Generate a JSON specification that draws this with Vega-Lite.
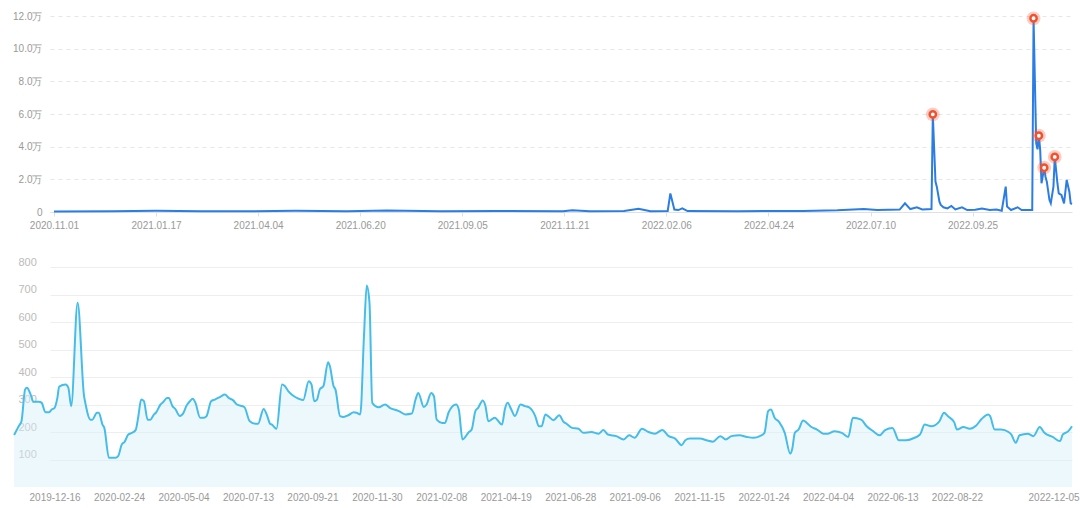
{
  "$schema": "https://vega.github.io/schema/vega-lite/v6.json",
  "background": "white",
  "padding": {"left": 10, "top": 10, "right": 10, "bottom": 0},
  "spacing": 26,
  "config": {"view": {"stroke": null}, "font": "Liberation Sans"},
  "datasets": {
    "top": [
      {"date": "2020-11-01", "v": 300}, {"date": "2020-12-15", "v": 400}, {"date": "2021-01-17", "v": 700},
      {"date": "2021-02-20", "v": 400}, {"date": "2021-04-01", "v": 500}, {"date": "2021-05-02", "v": 800},
      {"date": "2021-06-10", "v": 500}, {"date": "2021-07-10", "v": 900}, {"date": "2021-08-20", "v": 500},
      {"date": "2021-10-01", "v": 600}, {"date": "2021-11-20", "v": 500}, {"date": "2021-11-27", "v": 1100},
      {"date": "2021-12-10", "v": 500}, {"date": "2022-01-05", "v": 600}, {"date": "2022-01-16", "v": 2000},
      {"date": "2022-01-25", "v": 500}, {"date": "2022-02-07", "v": 600}, {"date": "2022-02-09", "v": 11400},
      {"date": "2022-02-12", "v": 1500}, {"date": "2022-02-15", "v": 1200}, {"date": "2022-02-18", "v": 2300},
      {"date": "2022-02-22", "v": 600}, {"date": "2022-04-01", "v": 500}, {"date": "2022-05-20", "v": 600},
      {"date": "2022-06-15", "v": 1000}, {"date": "2022-07-05", "v": 1800}, {"date": "2022-07-15", "v": 1200},
      {"date": "2022-08-01", "v": 1500}, {"date": "2022-08-05", "v": 5300}, {"date": "2022-08-09", "v": 1800},
      {"date": "2022-08-14", "v": 2900}, {"date": "2022-08-18", "v": 1600}, {"date": "2022-08-25", "v": 1800},
      {"date": "2022-08-26", "v": 59800}, {"date": "2022-08-28", "v": 18600}, {"date": "2022-08-29", "v": 15500},
      {"date": "2022-08-31", "v": 6300}, {"date": "2022-09-01", "v": 4300}, {"date": "2022-09-03", "v": 2900},
      {"date": "2022-09-06", "v": 2200}, {"date": "2022-09-09", "v": 3700}, {"date": "2022-09-12", "v": 1600},
      {"date": "2022-09-17", "v": 2900}, {"date": "2022-09-21", "v": 1200}, {"date": "2022-09-27", "v": 1400},
      {"date": "2022-10-02", "v": 2200}, {"date": "2022-10-08", "v": 1200}, {"date": "2022-10-13", "v": 1500},
      {"date": "2022-10-17", "v": 800}, {"date": "2022-10-20", "v": 15500}, {"date": "2022-10-21", "v": 3300},
      {"date": "2022-10-24", "v": 1200}, {"date": "2022-10-29", "v": 2900}, {"date": "2022-11-01", "v": 1200},
      {"date": "2022-11-09", "v": 1200}, {"date": "2022-11-10", "v": 118600}, {"date": "2022-11-12", "v": 42000},
      {"date": "2022-11-13", "v": 38400}, {"date": "2022-11-14", "v": 46700}, {"date": "2022-11-15", "v": 38000},
      {"date": "2022-11-16", "v": 17600}, {"date": "2022-11-18", "v": 27100}, {"date": "2022-11-19", "v": 21600},
      {"date": "2022-11-20", "v": 18600}, {"date": "2022-11-22", "v": 7300}, {"date": "2022-11-23", "v": 5300},
      {"date": "2022-11-25", "v": 15500}, {"date": "2022-11-26", "v": 33700}, {"date": "2022-11-28", "v": 17600},
      {"date": "2022-11-29", "v": 11400}, {"date": "2022-12-01", "v": 10400}, {"date": "2022-12-03", "v": 5300},
      {"date": "2022-12-05", "v": 19600}, {"date": "2022-12-07", "v": 12400}, {"date": "2022-12-08", "v": 5300},
      {"date": "2022-12-09", "v": 4900}
    ],
    "peaks": [
      {"date": "2022-08-26", "v": 59800}, {"date": "2022-11-10", "v": 118600}, {"date": "2022-11-14", "v": 46700},
      {"date": "2022-11-18", "v": 27100}, {"date": "2022-11-26", "v": 33700}
    ],
    "bottom": [
      {"date": "2019-11-02", "v": 189}, {"date": "2019-11-07", "v": 221}, {"date": "2019-11-10", "v": 239},
      {"date": "2019-11-14", "v": 355}, {"date": "2019-11-16", "v": 361}, {"date": "2019-11-20", "v": 336},
      {"date": "2019-11-23", "v": 310}, {"date": "2019-11-29", "v": 310}, {"date": "2019-12-02", "v": 306},
      {"date": "2019-12-06", "v": 272}, {"date": "2019-12-10", "v": 272}, {"date": "2019-12-13", "v": 282},
      {"date": "2019-12-16", "v": 288}, {"date": "2019-12-19", "v": 324}, {"date": "2019-12-21", "v": 365},
      {"date": "2019-12-28", "v": 373}, {"date": "2019-12-31", "v": 360}, {"date": "2020-01-03", "v": 294},
      {"date": "2020-01-10", "v": 670}, {"date": "2020-01-17", "v": 330}, {"date": "2020-01-18", "v": 312},
      {"date": "2020-01-24", "v": 245}, {"date": "2020-01-26", "v": 245}, {"date": "2020-01-31", "v": 270},
      {"date": "2020-02-02", "v": 270}, {"date": "2020-02-06", "v": 227}, {"date": "2020-02-08", "v": 215},
      {"date": "2020-02-13", "v": 106}, {"date": "2020-02-20", "v": 106}, {"date": "2020-02-23", "v": 112},
      {"date": "2020-02-27", "v": 155}, {"date": "2020-03-01", "v": 164}, {"date": "2020-03-05", "v": 191},
      {"date": "2020-03-09", "v": 197}, {"date": "2020-03-13", "v": 207}, {"date": "2020-03-16", "v": 258},
      {"date": "2020-03-19", "v": 318}, {"date": "2020-03-22", "v": 312}, {"date": "2020-03-26", "v": 245},
      {"date": "2020-03-29", "v": 245}, {"date": "2020-04-02", "v": 264}, {"date": "2020-04-04", "v": 270},
      {"date": "2020-04-09", "v": 300}, {"date": "2020-04-12", "v": 309}, {"date": "2020-04-16", "v": 324},
      {"date": "2020-04-18", "v": 324}, {"date": "2020-04-22", "v": 294}, {"date": "2020-04-25", "v": 284},
      {"date": "2020-04-30", "v": 258}, {"date": "2020-05-04", "v": 270}, {"date": "2020-05-07", "v": 294},
      {"date": "2020-05-11", "v": 312}, {"date": "2020-05-14", "v": 321}, {"date": "2020-05-17", "v": 306},
      {"date": "2020-05-22", "v": 252}, {"date": "2020-05-26", "v": 252}, {"date": "2020-05-29", "v": 258},
      {"date": "2020-06-03", "v": 312}, {"date": "2020-06-07", "v": 318}, {"date": "2020-06-13", "v": 328},
      {"date": "2020-06-18", "v": 336}, {"date": "2020-06-22", "v": 324}, {"date": "2020-06-27", "v": 315},
      {"date": "2020-07-01", "v": 300}, {"date": "2020-07-09", "v": 291}, {"date": "2020-07-15", "v": 239},
      {"date": "2020-07-21", "v": 230}, {"date": "2020-07-24", "v": 230}, {"date": "2020-07-30", "v": 284},
      {"date": "2020-08-03", "v": 258}, {"date": "2020-08-06", "v": 230}, {"date": "2020-08-08", "v": 227},
      {"date": "2020-08-13", "v": 212}, {"date": "2020-08-19", "v": 373}, {"date": "2020-08-22", "v": 367},
      {"date": "2020-08-26", "v": 348}, {"date": "2020-09-01", "v": 330}, {"date": "2020-09-06", "v": 321},
      {"date": "2020-09-11", "v": 316}, {"date": "2020-09-17", "v": 385}, {"date": "2020-09-20", "v": 373},
      {"date": "2020-09-23", "v": 312}, {"date": "2020-09-26", "v": 318}, {"date": "2020-09-29", "v": 355},
      {"date": "2020-10-03", "v": 367}, {"date": "2020-10-08", "v": 454}, {"date": "2020-10-10", "v": 439},
      {"date": "2020-10-14", "v": 367}, {"date": "2020-10-16", "v": 355}, {"date": "2020-10-21", "v": 258},
      {"date": "2020-10-25", "v": 255}, {"date": "2020-10-30", "v": 261}, {"date": "2020-11-05", "v": 272},
      {"date": "2020-11-08", "v": 270}, {"date": "2020-11-12", "v": 264}, {"date": "2020-11-16", "v": 548},
      {"date": "2020-11-19", "v": 733}, {"date": "2020-11-22", "v": 670}, {"date": "2020-11-25", "v": 306},
      {"date": "2020-12-02", "v": 290}, {"date": "2020-12-09", "v": 300}, {"date": "2020-12-14", "v": 288},
      {"date": "2020-12-24", "v": 276}, {"date": "2020-12-31", "v": 264}, {"date": "2021-01-07", "v": 267},
      {"date": "2021-01-11", "v": 318}, {"date": "2021-01-14", "v": 342}, {"date": "2021-01-20", "v": 291},
      {"date": "2021-01-23", "v": 300}, {"date": "2021-01-28", "v": 342}, {"date": "2021-01-31", "v": 330},
      {"date": "2021-02-03", "v": 245}, {"date": "2021-02-09", "v": 233}, {"date": "2021-02-12", "v": 233},
      {"date": "2021-02-16", "v": 272}, {"date": "2021-02-24", "v": 300}, {"date": "2021-02-27", "v": 282},
      {"date": "2021-03-03", "v": 173}, {"date": "2021-03-10", "v": 200}, {"date": "2021-03-13", "v": 209},
      {"date": "2021-03-17", "v": 276}, {"date": "2021-03-20", "v": 288}, {"date": "2021-03-25", "v": 315},
      {"date": "2021-03-28", "v": 294}, {"date": "2021-03-31", "v": 239}, {"date": "2021-04-07", "v": 252},
      {"date": "2021-04-15", "v": 227}, {"date": "2021-04-18", "v": 282}, {"date": "2021-04-21", "v": 306},
      {"date": "2021-04-25", "v": 282}, {"date": "2021-04-29", "v": 258}, {"date": "2021-05-05", "v": 300},
      {"date": "2021-05-10", "v": 294}, {"date": "2021-05-15", "v": 288}, {"date": "2021-05-21", "v": 258},
      {"date": "2021-05-25", "v": 221}, {"date": "2021-05-28", "v": 221}, {"date": "2021-06-01", "v": 264},
      {"date": "2021-06-04", "v": 258}, {"date": "2021-06-10", "v": 243}, {"date": "2021-06-16", "v": 261},
      {"date": "2021-06-21", "v": 236}, {"date": "2021-06-24", "v": 230}, {"date": "2021-06-30", "v": 215},
      {"date": "2021-07-07", "v": 212}, {"date": "2021-07-12", "v": 197}, {"date": "2021-07-21", "v": 200},
      {"date": "2021-07-29", "v": 194}, {"date": "2021-08-03", "v": 207}, {"date": "2021-08-08", "v": 191},
      {"date": "2021-08-17", "v": 185}, {"date": "2021-08-25", "v": 173}, {"date": "2021-08-31", "v": 188},
      {"date": "2021-09-06", "v": 179}, {"date": "2021-09-14", "v": 212}, {"date": "2021-09-21", "v": 200},
      {"date": "2021-09-28", "v": 194}, {"date": "2021-10-06", "v": 207}, {"date": "2021-10-13", "v": 185},
      {"date": "2021-10-20", "v": 176}, {"date": "2021-10-27", "v": 152}, {"date": "2021-10-31", "v": 170},
      {"date": "2021-11-05", "v": 176}, {"date": "2021-11-16", "v": 176}, {"date": "2021-11-23", "v": 170},
      {"date": "2021-11-30", "v": 165}, {"date": "2021-12-08", "v": 185}, {"date": "2021-12-14", "v": 173},
      {"date": "2021-12-20", "v": 185}, {"date": "2021-12-29", "v": 188}, {"date": "2022-01-06", "v": 182},
      {"date": "2022-01-13", "v": 179}, {"date": "2022-01-20", "v": 185}, {"date": "2022-01-25", "v": 197},
      {"date": "2022-01-29", "v": 276}, {"date": "2022-02-01", "v": 282}, {"date": "2022-02-05", "v": 252},
      {"date": "2022-02-10", "v": 236}, {"date": "2022-02-16", "v": 197}, {"date": "2022-02-22", "v": 121},
      {"date": "2022-02-24", "v": 136}, {"date": "2022-02-27", "v": 197}, {"date": "2022-03-03", "v": 209},
      {"date": "2022-03-08", "v": 242}, {"date": "2022-03-12", "v": 233}, {"date": "2022-03-17", "v": 218},
      {"date": "2022-03-23", "v": 209}, {"date": "2022-03-30", "v": 194}, {"date": "2022-04-04", "v": 194},
      {"date": "2022-04-11", "v": 203}, {"date": "2022-04-19", "v": 197}, {"date": "2022-04-26", "v": 182},
      {"date": "2022-05-01", "v": 252}, {"date": "2022-05-10", "v": 245}, {"date": "2022-05-16", "v": 221},
      {"date": "2022-05-23", "v": 203}, {"date": "2022-05-30", "v": 188}, {"date": "2022-06-05", "v": 207},
      {"date": "2022-06-13", "v": 215}, {"date": "2022-06-20", "v": 170}, {"date": "2022-06-28", "v": 170},
      {"date": "2022-07-07", "v": 179}, {"date": "2022-07-13", "v": 191}, {"date": "2022-07-18", "v": 227},
      {"date": "2022-07-25", "v": 221}, {"date": "2022-08-03", "v": 239}, {"date": "2022-08-08", "v": 270},
      {"date": "2022-08-12", "v": 258}, {"date": "2022-08-19", "v": 236}, {"date": "2022-08-22", "v": 209},
      {"date": "2022-08-29", "v": 218}, {"date": "2022-09-05", "v": 212}, {"date": "2022-09-12", "v": 224},
      {"date": "2022-09-18", "v": 248}, {"date": "2022-09-25", "v": 264}, {"date": "2022-09-27", "v": 258},
      {"date": "2022-10-02", "v": 209}, {"date": "2022-10-09", "v": 209}, {"date": "2022-10-17", "v": 200},
      {"date": "2022-10-20", "v": 191}, {"date": "2022-10-25", "v": 161}, {"date": "2022-10-29", "v": 188},
      {"date": "2022-11-07", "v": 194}, {"date": "2022-11-13", "v": 185}, {"date": "2022-11-20", "v": 218},
      {"date": "2022-11-25", "v": 197}, {"date": "2022-12-04", "v": 182}, {"date": "2022-12-12", "v": 167},
      {"date": "2022-12-15", "v": 191}, {"date": "2022-12-21", "v": 203}, {"date": "2022-12-25", "v": 221}
    ]
  },
  "vconcat": [
    {
      "width": 1022,
      "height": 196,
      "data": {"name": "top"},
      "encoding": {
        "x": {
          "field": "date", "type": "temporal",
          "scale": {"type": "utc", "domain": [{"year": 2020, "month": 10, "date": 29, "utc": true}, {"year": 2022, "month": 12, "date": 9, "utc": true}]},
          "axis": {
            "title": null, "grid": false,
            "labelExpr": "utcFormat(datum.value, '%Y.%m.%d')",
            "values": [
              {"year": 2020, "month": 11, "date": 1, "utc": true}, {"year": 2021, "month": 1, "date": 17, "utc": true},
              {"year": 2021, "month": 4, "date": 4, "utc": true}, {"year": 2021, "month": 6, "date": 20, "utc": true},
              {"year": 2021, "month": 9, "date": 5, "utc": true}, {"year": 2021, "month": 11, "date": 21, "utc": true},
              {"year": 2022, "month": 2, "date": 6, "utc": true}, {"year": 2022, "month": 4, "date": 24, "utc": true},
              {"year": 2022, "month": 7, "date": 10, "utc": true}, {"year": 2022, "month": 9, "date": 25, "utc": true}
            ],
            "domainColor": "#e0e0e0", "ticks": true, "tickColor": "#e0e0e0", "tickSize": 4,
            "labelPadding": 4, "labelColor": "#999999", "labelFontSize": 10,
            "labelOverlap": false, "labelFlush": false
          }
        },
        "y": {
          "field": "v", "type": "quantitative",
          "scale": {"domain": [0, 120000]},
          "axis": {
            "title": null, "values": [0, 20000, 40000, 60000, 80000, 100000, 120000],
            "labelExpr": "datum.value == 0 ? '0' : format(datum.value / 10000, '.1f') + '万'",
            "grid": true, "gridDash": [4, 4], "gridColor": "#e6e6e6", "domain": false, "ticks": false,
            "labelPadding": 8, "labelColor": "#999999", "labelFontSize": 10
          }
        }
      },
      "layer": [
        {"mark": {"type": "line", "color": "#2b7de3", "strokeWidth": 2}},
        {"data": {"name": "peaks"}, "mark": {"type": "point", "filled": true, "color": "#f5593d", "opacity": 0.3, "size": 190}},
        {"data": {"name": "peaks"}, "mark": {"type": "point", "filled": true, "fill": "white", "stroke": "#f0522f", "strokeWidth": 2.5, "opacity": 1, "size": 40}}
      ]
    },
    {
      "width": 1022,
      "height": 220,
      "data": {"name": "bottom"},
      "encoding": {
        "x": {
          "field": "date", "type": "temporal",
          "scale": {"type": "utc", "domain": [{"year": 2019, "month": 12, "date": 11, "utc": true}, {"year": 2022, "month": 12, "date": 25, "utc": true}]},
          "axis": {
            "title": null, "grid": false,
            "labelExpr": "utcFormat(datum.value, '%Y-%m-%d')",
            "values": [
              {"year": 2019, "month": 12, "date": 16, "utc": true}, {"year": 2020, "month": 2, "date": 24, "utc": true},
              {"year": 2020, "month": 5, "date": 4, "utc": true}, {"year": 2020, "month": 7, "date": 13, "utc": true},
              {"year": 2020, "month": 9, "date": 21, "utc": true}, {"year": 2020, "month": 11, "date": 30, "utc": true},
              {"year": 2021, "month": 2, "date": 8, "utc": true}, {"year": 2021, "month": 4, "date": 19, "utc": true},
              {"year": 2021, "month": 6, "date": 28, "utc": true}, {"year": 2021, "month": 9, "date": 6, "utc": true},
              {"year": 2021, "month": 11, "date": 15, "utc": true}, {"year": 2022, "month": 1, "date": 24, "utc": true},
              {"year": 2022, "month": 4, "date": 4, "utc": true}, {"year": 2022, "month": 6, "date": 13, "utc": true},
              {"year": 2022, "month": 8, "date": 22, "utc": true}, {"year": 2022, "month": 12, "date": 5, "utc": true}
            ],
            "domain": false, "ticks": false, "tickSize": 0,
            "labelPadding": 5, "labelColor": "#999999", "labelFontSize": 10,
            "labelOverlap": false, "labelFlush": false
          }
        },
        "y": {
          "field": "v", "type": "quantitative",
          "scale": {"domain": [0, 800]},
          "axis": {
            "title": null, "values": [100, 200, 300, 400, 500, 600, 700, 800],
            "grid": true, "gridColor": "#eeeeee", "domain": false, "ticks": false, "tickSize": 0,
            "labelAlign": "left", "labelBaseline": "bottom", "labelPadding": 32,
            "labelColor": "#bbbbbb", "labelFontSize": 11
          }
        }
      },
      "layer": [
        {"mark": {"type": "area", "interpolate": "monotone", "color": "#d6eff9", "opacity": 0.45}},
        {"mark": {"type": "line", "interpolate": "monotone", "color": "#45bde8", "strokeWidth": 2}}
      ]
    }
  ]
}
